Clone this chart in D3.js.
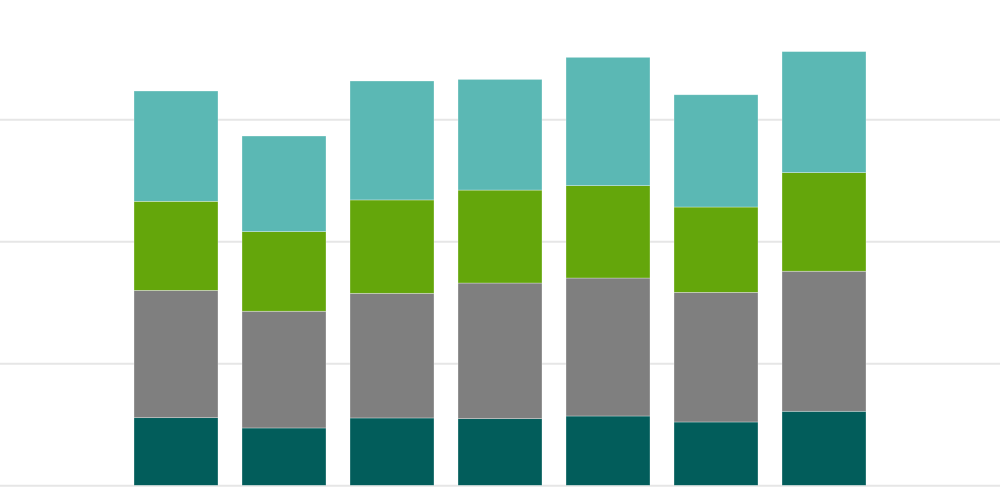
<!DOCTYPE html>
<html>
<head>
<meta charset="utf-8">
<script src="https://cdn.jsdelivr.net/npm/d3@7"></script>
<style>
  body { margin: 0; background: #fff; }
  svg { display: block; }
</style>
</head>
<body>
<svg class="stack-chart" width="1000" height="500"></svg>
<script>
// data (gridline step = 10)
const categories = ["A", "B", "C", "D", "E", "F", "G"];
const seriesKeys = ["s1", "s2", "s3", "s4"];
const s1 = [5.54, 4.70, 5.52, 5.46, 5.68, 5.19, 6.07];
const s2 = [10.44, 9.57, 10.22, 11.12, 11.31, 10.63, 11.48];
const s3 = [7.30, 6.52, 7.65, 7.62, 7.57, 6.99, 8.08];
const s4 = [9.04, 7.84, 9.75, 9.07, 10.52, 9.20, 9.92];
const gridTicks = [0, 10, 20, 30];
const colors = ["#025d5b", "#7f7f7f", "#64a60b", "#5bb8b4"];

const rows = categories.map((c, i) => ({
  cat: c, s1: s1[i], s2: s2[i], s3: s3[i], s4: s4[i]
}));

const svg = d3.select("svg.stack-chart");

// prettier-ignore
const x = d3.scaleBand()
  .domain(categories)
  .range([122, 878])
  .paddingInner(24 / 108)
  .paddingOuter(12 / 108);

// prettier-ignore
const y = d3.scaleLinear()
  .domain([0, 40])
  .range([485.3, -2.7]);

// gridlines
const grid = svg.append("g")
  .attr("transform", "translate(0,0)")
  .call(d3.axisRight(y).tickValues(gridTicks).tickSize(1000).tickFormat(""));
grid.select(".domain").remove();
grid.selectAll("line")
  .attr("stroke", "#e6e6e6")
  .attr("stroke-width", 2);

const stacked = d3.stack().keys(seriesKeys)(rows);

svg.append("g")
  .selectAll("g")
  .data(stacked)
  .enter()
  .append("g")
  .attr("fill", (d, i) => colors[i])
  .selectAll("rect")
  .data(d => d)
  .enter()
  .append("rect")
  .attr("x", d => x(d.data.cat))
  .attr("y", d => y(d[1]))
  .attr("width", x.bandwidth())
  .attr("height", d => y(d[0]) - y(d[1]))
  .attr("stroke", "#ffffff")
  .attr("stroke-opacity", 0.5)
  .attr("stroke-width", 0.6);
</script>
</body>
</html>
